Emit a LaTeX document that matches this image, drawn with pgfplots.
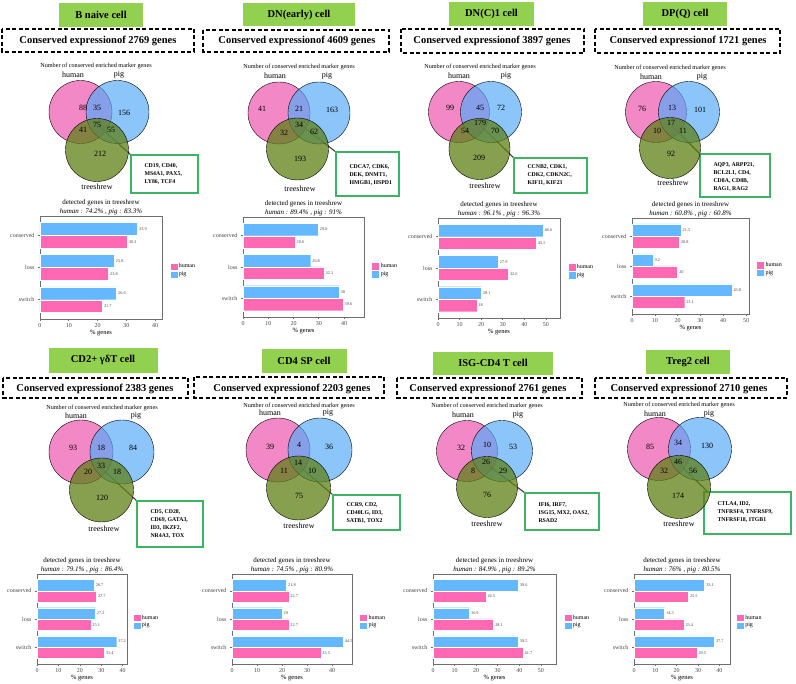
\documentclass[border=0pt]{standalone}
\usepackage{fontspec}
\setmainfont{Liberation Serif}
\usepackage{pgfplots}
\pgfplotsset{compat=1.18}

\definecolor{tgreen}{RGB}{146,208,80}
\definecolor{vpink}{RGB}{236,74,169}
\definecolor{vblue}{RGB}{84,169,248}
\definecolor{vgreen}{RGB}{95,128,22}
\definecolor{cgreen}{RGB}{60,180,100}
\definecolor{bpink}{RGB}{255,105,180}
\definecolor{bblue}{RGB}{99,184,255}
\definecolor{axgray}{RGB}{110,110,110}
\definecolor{labgray}{RGB}{70,70,70}

\newcommand\ttl{\fontsize{10.5}{12}\selectfont\bfseries}
\newcommand\nfont{\fontsize{6.2}{7}\selectfont}
\newcommand\lfont{\fontsize{8}{9}\selectfont}
\newcommand\vnum{\fontsize{8}{9}\selectfont}
\newcommand\cfont{\fontsize{5.8}{8}\selectfont\bfseries}

\tikzset{dbox/.style={draw=black, dash pattern=on 4pt off 2.5pt, line width=1.2pt},
  cbox/.style={draw=cgreen, line width=1.2pt, fill=white},
  cline/.style={draw=black!75, line width=1.1pt}}

% three Venn circles: pink x,y  blue x,y  green x,y  radius
\newcommand{\venncirc}[7]{%
  \addplot[only marks, mark=*, mark size=#7, mark options={draw=none, fill=vpink, fill opacity=0.66}] coordinates {(#1,#2)};
  \addplot[only marks, mark=*, mark size=#7, mark options={draw=none, fill=vblue, fill opacity=0.68}] coordinates {(#3,#4)};
  \addplot[only marks, mark=*, mark size=#7, mark options={draw=none, fill=vgreen, fill opacity=0.75}] coordinates {(#5,#6)};
}
\pgfplotsset{vlabels/.style={only marks, mark=none, nodes near coords, point meta=explicit symbolic,
   nodes near coords style={anchor=center, font=\vnum, inner sep=0pt, text=black}}}

\pgfplotsset{barax/.style={
  scale only axis, anchor=north west, xbar,
  xmin=0, ymin=0.4, ymax=3.6,
  ytick={1,2,3}, yticklabels={switch,loss,conserved},
  xtick distance=10,
  axis line style={draw=axgray, line width=0.8pt},
  tick style={draw=axgray, line width=0.6pt},
  tick align=outside, xtick pos=bottom, ytick pos=left,
  major tick length=2pt,
  tick label style={font=\fontsize{6}{7}\selectfont, text=labgray},
  xticklabel style={yshift=1pt},
  /pgf/number format/assume math mode=true,
  xlabel={\% genes}, xlabel style={font=\fontsize{6.5}{7}\selectfont, yshift=4pt},
  title style={font=\fontsize{7}{9}\selectfont, align=center, at={(0.5,1)}, anchor=south, inner sep=2pt, yshift=-7.5pt},
  nodes near coords, point meta=x,
  nodes near coords style={font=\fontsize{4.3}{5}\selectfont, anchor=west, text=labgray, inner sep=1.5pt},
  legend style={at={(1.06,0.47)}, anchor=west, draw=none, fill=none, font=\fontsize{6}{7}\selectfont,
     inner sep=0pt, row sep=0pt, nodes={inner sep=1pt}},
  legend cell align=left,
  legend image code/.code={\fill[##1, draw=white, line width=0.3pt] (0pt,-3.8pt) rectangle (8pt,3.8pt);},
  clip=false},
  bhuman/.style={fill=bpink, draw=white, line width=0.3pt, bar width=0.4, bar shift=-0.2},
  bpig/.style={fill=bblue, draw=white, line width=0.3pt, bar width=0.4, bar shift=0.2}}

\begin{document}
\begin{tikzpicture}
\useasboundingbox (0,0) rectangle (796pt,684pt);
\begin{axis}[at={(0pt,0pt)}, anchor=south west, scale only axis, width=796pt, height=684pt,
  xmin=0, xmax=796, ymin=0, ymax=684, y dir=reverse, hide axis, clip=false]

% ================= Panel 1: B naive cell
\fill[tgreen] (axis cs:59,3) rectangle (axis cs:143,27);
\node[font=\ttl] at (axis cs:101,15) {B naive cell};
\draw[dbox] (axis cs:2,29) rectangle (axis cs:194,52);
\node[font=\ttl] at (axis cs:98,41) {Conserved expressionof 2769 genes};
\node[font=\nfont] at (axis cs:96,66) {Number of conserved enriched marker genes};
\node[font=\lfont] at (axis cs:73,75) {human};
\node[font=\lfont] at (axis cs:119,75) {pig};
\venncirc{80.5}{112}{117.5}{112}{97}{150}{31.5}
\node[font=\lfont] at (axis cs:97,187) {treeshrew};
\addplot[vlabels] table[meta=l, row sep=\\] {x y l\\ 83 108 88\\ 97 108 35\\ 124 113 156\\ 97 125 75\\ 83 130 41\\ 111 130 55\\ 100 154 212\\};
\draw[cline] (axis cs:100,127) -- (axis cs:131,155);
\draw[cbox] (axis cs:131,155) rectangle (axis cs:198,193);
\node[font=\cfont, anchor=west, align=left] at (axis cs:141,174) {CD19, CD40,\\MS4A1, PAX5,\\LY86, TCF4};

% ================= Panel 2: DN(early) cell
\fill[tgreen] (axis cs:243,3) rectangle (axis cs:355,26);
\node[font=\ttl] at (axis cs:299,15) {DN(early) cell};
\draw[dbox] (axis cs:203,30) rectangle (axis cs:389,52);
\node[font=\ttl] at (axis cs:297,41) {Conserved expressionof 4609 genes};
\node[font=\nfont] at (axis cs:299,67) {Number of conserved enriched marker genes};
\node[font=\lfont] at (axis cs:275,76) {human};
\node[font=\lfont] at (axis cs:327,76) {pig};
\venncirc{279}{113}{319}{113}{297.5}{149}{31}
\node[font=\lfont] at (axis cs:300,189) {treeshrew};
\addplot[vlabels] table[meta=l, row sep=\\] {x y l\\ 262 109 41\\ 299 109 21\\ 332 110 163\\ 299 125 34\\ 284 133 32\\ 314 132 62\\ 300 159 193\\};
\draw[cline] (axis cs:302,126) -- (axis cs:336,152);
\draw[cbox] (axis cs:336,152) rectangle (axis cs:399,196);
\node[font=\cfont, anchor=west, align=left] at (axis cs:346,175) {CDCA7, CDK6,\\DEK, DNMT1,\\HMGB1, HSPD1};

% ================= Panel 3: DN(C)1 cell
\fill[tgreen] (axis cs:449,2) rectangle (axis cs:534,26);
\node[font=\ttl] at (axis cs:491.5,14) {DN(C)1 cell};
\draw[dbox] (axis cs:401,29) rectangle (axis cs:584,53);
\node[font=\ttl] at (axis cs:492,41) {Conserved expressionof 3897 genes};
\node[font=\nfont] at (axis cs:480,67) {Number of conserved enriched marker genes};
\node[font=\lfont] at (axis cs:459,76) {human};
\node[font=\lfont] at (axis cs:506,76) {pig};
\venncirc{459}{112}{491}{112}{479.5}{149}{30.5}
\node[font=\lfont] at (axis cs:485,186) {treeshrew};
\addplot[vlabels] table[meta=l, row sep=\\] {x y l\\ 450 108 99\\ 480 108 45\\ 501 108 72\\ 480 123 179\\ 465 131 54\\ 495 131 70\\ 479 158 209\\};
\draw[cline] (axis cs:481,126) -- (axis cs:514,158);
\draw[cbox] (axis cs:514,158) rectangle (axis cs:587,193);
\node[font=\cfont, anchor=west, align=left] at (axis cs:524,175) {CCNB2, CDK1,\\CDK2, CDKN2C,\\KIF11, KIF23};

% ================= Panel 4: DP(Q) cell
\fill[tgreen] (axis cs:643,2) rectangle (axis cs:727,26);
\node[font=\ttl] at (axis cs:685,14) {DP(Q) cell};
\draw[dbox] (axis cs:595,29) rectangle (axis cs:780,53);
\node[font=\ttl] at (axis cs:688,41) {Conserved expressionof 1721 genes};
\node[font=\nfont] at (axis cs:670,68) {Number of conserved enriched marker genes};
\node[font=\lfont] at (axis cs:651,77) {human};
\node[font=\lfont] at (axis cs:702,77) {pig};
\venncirc{656}{112}{689}{112}{670}{148}{30.5}
\node[font=\lfont] at (axis cs:673,183) {treeshrew};
\addplot[vlabels] table[meta=l, row sep=\\] {x y l\\ 642 109 76\\ 672 108 13\\ 700 110 101\\ 671 123 17\\ 657 131 10\\ 683 131 11\\ 671 154 92\\};
\draw[cline] (axis cs:672,126) -- (axis cs:700,154);
\draw[cbox] (axis cs:700,154) rectangle (axis cs:770,197);
\node[font=\cfont, anchor=west, align=left] at (axis cs:710,177) {AQP3, ARPP21,\\BCL2L1, CD4,\\CD8A, CD8B,\\RAG1, RAG2};

% ================= Panel 5: CD2+ gd T cell
\fill[tgreen] (axis cs:49,348) rectangle (axis cs:158,373);
\node[font=\ttl] at (axis cs:103,360) {CD2+ γδT cell};
\draw[dbox] (axis cs:3,378) rectangle (axis cs:188,398);
\node[font=\ttl] at (axis cs:95,389) {Conserved expressionof 2383 genes};
\node[font=\nfont] at (axis cs:102,408) {Number of conserved enriched marker genes};
\node[font=\lfont] at (axis cs:76,416) {human};
\node[font=\lfont] at (axis cs:136,416) {pig};
\venncirc{81}{452}{122}{452}{101.5}{490}{32}
\node[font=\lfont] at (axis cs:104,529) {treeshrew};
\addplot[vlabels] table[meta=l, row sep=\\] {x y l\\ 73 448 93\\ 101 448 18\\ 133 448 84\\ 101 466 33\\ 88 472 20\\ 117 472 18\\ 102 498 120\\};
\draw[cline] (axis cs:101,468) -- (axis cs:137,501);
\draw[cbox] (axis cs:137,501) rectangle (axis cs:203,547);
\node[font=\cfont, anchor=west, align=left] at (axis cs:147,524) {CD5, CD28,\\CD69, GATA3,\\ID3, IKZF2,\\NR4A3, TOX};

% ================= Panel 6: CD4 SP cell
\fill[tgreen] (axis cs:262,349) rectangle (axis cs:347,373);
\node[font=\ttl] at (axis cs:304,361) {CD4 SP cell};
\draw[dbox] (axis cs:194,377) rectangle (axis cs:384,398);
\node[font=\ttl] at (axis cs:292,389) {Conserved expressionof 2203 genes};
\node[font=\nfont] at (axis cs:299,406) {Number of conserved enriched marker genes};
\node[font=\lfont] at (axis cs:270,413) {human};
\node[font=\lfont] at (axis cs:328,413) {pig};
\venncirc{278}{450}{320}{450}{298.5}{488}{32}
\node[font=\lfont] at (axis cs:299,526) {treeshrew};
\addplot[vlabels] table[meta=l, row sep=\\] {x y l\\ 270 447 39\\ 299 445 4\\ 329 447 36\\ 298 463 14\\ 284 471 11\\ 312 471 10\\ 299 496 75\\};
\draw[cline] (axis cs:299,466) -- (axis cs:333,495);
\draw[cbox] (axis cs:333,495) rectangle (axis cs:400,530);
\node[font=\cfont, anchor=west, align=left] at (axis cs:343,513) {CCR9, CD2,\\CD40LG, ID3,\\SATB1, TOX2};

% ================= Panel 7: ISG-CD4 T cell
\fill[tgreen] (axis cs:433,352) rectangle (axis cs:553,375);
\node[font=\ttl] at (axis cs:493,363) {ISG-CD4 T cell};
\draw[dbox] (axis cs:397,378) rectangle (axis cs:582,398);
\node[font=\ttl] at (axis cs:488,389) {Conserved expressionof 2761 genes};
\node[font=\nfont] at (axis cs:487,406) {Number of conserved enriched marker genes};
\node[font=\lfont] at (axis cs:463,415) {human};
\node[font=\lfont] at (axis cs:518,415) {pig};
\venncirc{467}{451}{502}{451}{487}{487}{30.5}
\node[font=\lfont] at (axis cs:487,524) {treeshrew};
\addplot[vlabels] table[meta=l, row sep=\\] {x y l\\ 461 448 32\\ 487 445 10\\ 513 447 53\\ 486 462 26\\ 473 471 8\\ 503 471 29\\ 487 495 76\\};
\draw[cline] (axis cs:489,466) -- (axis cs:525,493);
\draw[cbox] (axis cs:525,493) rectangle (axis cs:599,530);
\node[font=\cfont, anchor=west, align=left] at (axis cs:535,513) {IFI6, IRF7,\\ISG15, MX2, OAS2,\\RSAD2};

% ================= Panel 8: Treg2 cell
\fill[tgreen] (axis cs:646,350) rectangle (axis cs:730,374);
\node[font=\ttl] at (axis cs:688,362) {Treg2 cell};
\draw[dbox] (axis cs:595,378) rectangle (axis cs:787,398);
\node[font=\ttl] at (axis cs:689,389) {Conserved expressionof 2710 genes};
\node[font=\nfont] at (axis cs:679,405) {Number of conserved enriched marker genes};
\node[font=\lfont] at (axis cs:655,414) {human};
\node[font=\lfont] at (axis cs:709,414) {pig};
\venncirc{659}{449}{700}{449}{679}{487}{31.5}
\node[font=\lfont] at (axis cs:679,524) {treeshrew};
\addplot[vlabels] table[meta=l, row sep=\\] {x y l\\ 650 447 85\\ 678 443 34\\ 707 446 130\\ 678 462 46\\ 664 471 32\\ 693 471 56\\ 678 496 174\\};
\draw[cline] (axis cs:680,465) -- (axis cs:709,493);
\draw[cbox] (axis cs:704,492) rectangle (axis cs:791,534);
\node[font=\cfont, anchor=west, align=left] at (axis cs:714,512) {CTLA4, ID2,\\TNFRSF4, TNFRSF9,\\TNFRSF18, ITGB1};
\end{axis}

% ================= Bar charts, top row
\begin{axis}[barax, at={(40pt,468pt)}, width=122pt, height=103pt, xmax=42.4,
  title={detected genes in treeshrew\\\textit{human : 74.2\% , pig : 83.3\%}}]
\addplot[bhuman] coordinates {(30.3,3) (23.8,2) (21.7,1)};
\addplot[bpig] coordinates {(33.9,3) (25.8,2) (26.6,1)};
\legend{human,pig}
\end{axis}
\begin{axis}[barax, at={(243pt,467pt)}, width=121pt, height=100pt, xmax=47.9,
  title={detected genes in treeshrew\\\textit{human : 89.4\% , pig : 91\%}}]
\addplot[bhuman] coordinates {(20.6,3) (32.1,2) (39.6,1)};
\addplot[bpig] coordinates {(29.8,3) (26.8,2) (38,1)};
\legend{human,pig}
\end{axis}
\begin{axis}[barax, at={(438pt,466pt)}, width=122pt, height=100pt, xmax=56.5,
  title={detected genes in treeshrew\\\textit{human : 96.1\% , pig : 96.3\%}}]
\addplot[bhuman] coordinates {(45.5,3) (32.6,2) (18,1)};
\addplot[bpig] coordinates {(48.6,3) (27.9,2) (20.1,1)};
\legend{human,pig}
\end{axis}
\begin{axis}[barax, at={(632pt,466pt)}, width=117pt, height=96pt, xmax=51.3,
  title={detected genes in treeshrew\\\textit{human : 60.8\% , pig : 60.8\%}}]
\addplot[bhuman] coordinates {(20.8,3) (20,2) (23.1,1)};
\addplot[bpig] coordinates {(21.5,3) (9.2,2) (43.8,1)};
\legend{human,pig}
\end{axis}

% ================= Bar charts, bottom row
\begin{axis}[barax, at={(37pt,110pt)}, width=90pt, height=90pt, xmax=42,
  title={detected genes in treeshrew\\\textit{human : 79.1\% , pig : 86.4\%}}]
\addplot[bhuman] coordinates {(27.7,3) (25.1,2) (31.4,1)};
\addplot[bpig] coordinates {(26.7,3) (27.2,2) (37.2,1)};
\legend{human,pig}
\end{axis}
\begin{axis}[barax, at={(232pt,110pt)}, width=120pt, height=90pt, xmax=48,
  title={detected genes in treeshrew\\\textit{human : 74.5\% , pig : 80.9\%}}]
\addplot[bhuman] coordinates {(22.7,3) (22.7,2) (35.5,1)};
\addplot[bpig] coordinates {(21.8,3) (20,2) (44.5,1)};
\legend{human,pig}
\end{axis}
\begin{axis}[barax, at={(433pt,110pt)}, width=123pt, height=90pt, xmax=57,
  title={detected genes in treeshrew\\\textit{human : 84.9\% , pig : 89.2\%}}]
\addplot[bhuman] coordinates {(24.5,3) (28.1,2) (41.7,1)};
\addplot[bpig] coordinates {(39.6,3) (16.9,2) (39.5,1)};
\legend{human,pig}
\end{axis}
\begin{axis}[barax, at={(634pt,110pt)}, width=96pt, height=90pt, xmax=45,
  title={detected genes in treeshrew\\\textit{human : 76\% , pig : 80.5\%}}]
\addplot[bhuman] coordinates {(25.5,3) (23.4,2) (29.5,1)};
\addplot[bpig] coordinates {(33.1,3) (14.3,2) (37.7,1)};
\legend{human,pig}
\end{axis}
\end{tikzpicture}
\end{document}
